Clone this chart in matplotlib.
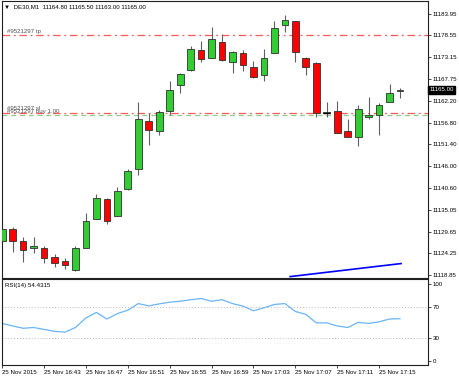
import matplotlib.pyplot as plt
import matplotlib.transforms as mtransforms
import numpy as np

plt.rcParams['font.family'] = ['Liberation Sans', 'DejaVu Sans']

# one candle per minute, 16:39 .. 17:17
opens = [11127.32, 11130.31, 11127.32, 11125.50, 11125.50, 11123.34, 11122.34, 11120.10,
         11125.65, 11132.73, 11137.86, 11133.63, 11140.21, 11145.27, 11157.23, 11154.73,
         11159.72, 11166.12, 11169.94, 11174.85, 11173.00, 11176.84, 11171.93, 11174.10,
         11170.61, 11168.62, 11174.10, 11181.15, 11182.07, 11173.00, 11171.68, 11159.30,
         11159.64, 11154.66, 11153.16, 11158.15, 11158.72, 11162.04, 11164.80]
highs = [11130.60, 11130.89, 11128.32, 11128.39, 11126.08, 11124.01, 11123.09, 11126.08,
         11134.38, 11139.04, 11138.04, 11140.85, 11145.27, 11162.04, 11159.30, 11159.97,
         11167.27, 11169.10, 11175.92, 11177.24, 11180.58, 11178.91, 11174.67, 11174.92,
         11172.10, 11175.09, 11182.15, 11183.64, 11182.15, 11173.18, 11171.90, 11162.04,
         11162.21, 11157.73, 11161.21, 11163.28, 11161.64, 11166.45, 11165.50]
lows = [11127.00, 11124.58, 11122.09, 11124.33, 11121.92, 11120.77, 11120.42, 11119.77,
        11125.58, 11132.70, 11131.63, 11133.63, 11140.03, 11143.77, 11151.32, 11153.74,
        11158.72, 11164.20, 11169.69, 11172.00, 11173.00, 11172.18, 11169.11, 11169.69,
        11167.87, 11167.19, 11174.10, 11179.48, 11172.00, 11168.69, 11158.15, 11158.15,
        11154.31, 11153.16, 11151.00, 11157.73, 11153.74, 11162.04, 11163.00]
closes = [11130.31, 11127.40, 11125.15, 11126.00, 11123.16, 11121.92, 11121.42, 11125.50,
          11132.31, 11138.04, 11132.23, 11139.78, 11144.84, 11157.73, 11154.98, 11159.54,
          11164.88, 11168.94, 11175.09, 11172.60, 11177.66, 11172.43, 11174.50, 11171.18,
          11168.19, 11172.93, 11180.40, 11182.40, 11174.50, 11170.61, 11159.15, 11159.30,
          11154.31, 11153.16, 11160.22, 11158.65, 11161.14, 11164.20, 11165.00]
rsi = [48.3, 45.0, 42.0, 43.0, 40.5, 38.0, 37.0, 43.0, 55.5, 62.5, 54.0, 61.0, 65.5,
       74.0, 71.0, 73.6, 75.8, 77.0, 79.0, 80.6, 77.0, 79.0, 74.0, 70.7, 64.7, 68.5,
       72.9, 74.0, 63.8, 60.0, 49.0, 49.0, 45.0, 43.0, 49.6, 48.3, 50.4, 54.0, 54.4]

price_ticks = [11183.95, 11178.55, 11173.15, 11167.75, 11162.20, 11156.80, 11151.40,
               11146.00, 11140.60, 11135.05, 11129.65, 11124.25, 11118.85]
time_tick_pos = [1, 5, 9, 13, 17, 21, 25, 29, 33, 37]
time_tick_labels = ['25 Nov 2015', '25 Nov 16:43', '25 Nov 16:47', '25 Nov 16:51',
                    '25 Nov 16:55', '25 Nov 16:59', '25 Nov 17:03', '25 Nov 17:07',
                    '25 Nov 17:11', '25 Nov 17:15']

tp_price = 11178.66
sl_price = 11159.34
buy_price = 11158.77
trend_x = [28.5, 39.1]
trend_y = [11118.45, 11121.70]

W, H = 459, 377
fig = plt.figure(figsize=(W / 100, H / 100), dpi=100)
ax = fig.add_axes([2 / W, 1 - 278 / H, 426 / W, 277 / H])
ax2 = fig.add_axes([2 / W, 1 - 365 / H, 426 / W, 86.5 / H])

fs = 4.4
x = np.arange(1, len(opens) + 1)
o = np.array(opens)
c = np.array(closes)

# candles
ax.vlines(x, lows, highs, color='#606060', lw=0.8, zorder=2)
up = c >= o
colors = np.where(up, '#32cd32', '#ff0000')
ax.bar(x, np.maximum(np.abs(c - o), 0.08), bottom=np.minimum(o, c), width=0.64,
       color=colors, edgecolor='#303030', lw=0.6, zorder=3)
for i in range(len(o)):
    if abs(c[i] - o[i]) < 0.05:
        ax.hlines(o[i], x[i] - 0.32, x[i] + 0.32, color='black', lw=0.9, zorder=4)

# order lines
ax.axhline(tp_price, color='#ff2020', lw=0.9, ls=(0, (6, 3, 1.5, 3)), alpha=0.75, zorder=1)
ax.axhline(sl_price, color='#ff2020', lw=0.9, ls=(0, (6, 3, 1.5, 3)), alpha=0.75, zorder=1)
ax.axhline(buy_price, color='#40b040', lw=0.9, ls=(0, (4, 3)), alpha=0.6, zorder=1)
ax.text(1.45, tp_price + 0.3, '#9521297 tp', fontsize=fs, color='#505050', va='bottom')
ax.text(1.45, sl_price + 0.5, '#9521297 sl', fontsize=fs, color='#505050', va='bottom')
ax.text(1.45, buy_price + 0.1, '#9521297 buy 1.00', fontsize=fs, color='#505050', va='bottom')

ax.plot(trend_x, trend_y, color='#0000ff', lw=1.2, zorder=5)

ax.set_xlim(0.98, 41.67)
ax.set_ylim(11118.10, 11187.13)
ax.set_xticks([])
ax.yaxis.tick_right()
ax.set_yticks(price_ticks)
ax.set_yticklabels(['%.2f' % p for p in price_ticks])
ax.tick_params(axis='y', length=2, width=0.5, pad=1.5, labelsize=fs)

trans = mtransforms.blended_transform_factory(ax.transAxes, ax.transData)
ax.text(1.003, closes[-1], '11165.00', transform=trans, fontsize=fs, color='white',
        va='center', ha='left',
        bbox=dict(facecolor='black', edgecolor='black', pad=1.2), zorder=6)

fig.text(4 / W, 1 - 7 / H, '\u25bc  DE30,M1  11164.80 11165.50 11163.00 11165.00',
         fontsize=fs, va='center', ha='left')

# RSI panel
ax2.plot(x, rsi, color='#6ab4f8', lw=0.9)
ax2.axhline(70, color='#b8b8b8', lw=0.7, ls=(0, (1, 2)))
ax2.axhline(30, color='#b8b8b8', lw=0.7, ls=(0, (1, 2)))
ax2.set_xlim(0.98, 41.67)
ax2.set_ylim(-5.6, 106.5)
ax2.yaxis.tick_right()
ax2.set_yticks([0, 30, 70, 100])
ax2.tick_params(axis='y', length=2, width=0.5, pad=1.5, labelsize=fs)
ax2.set_xticks(time_tick_pos)
ax2.set_xticklabels(time_tick_labels, ha='left')
ax2.tick_params(axis='x', length=2, width=0.5, pad=1.5, labelsize=fs)
ax2.text(0.008, 0.95, 'RSI(14) 54.4315', transform=ax2.transAxes, fontsize=fs,
         va='top', ha='left')

for a in (ax, ax2):
    for s in a.spines.values():
        s.set_linewidth(0.8)
        s.set_color('#202020')

fig.savefig('out.png', dpi=100)
